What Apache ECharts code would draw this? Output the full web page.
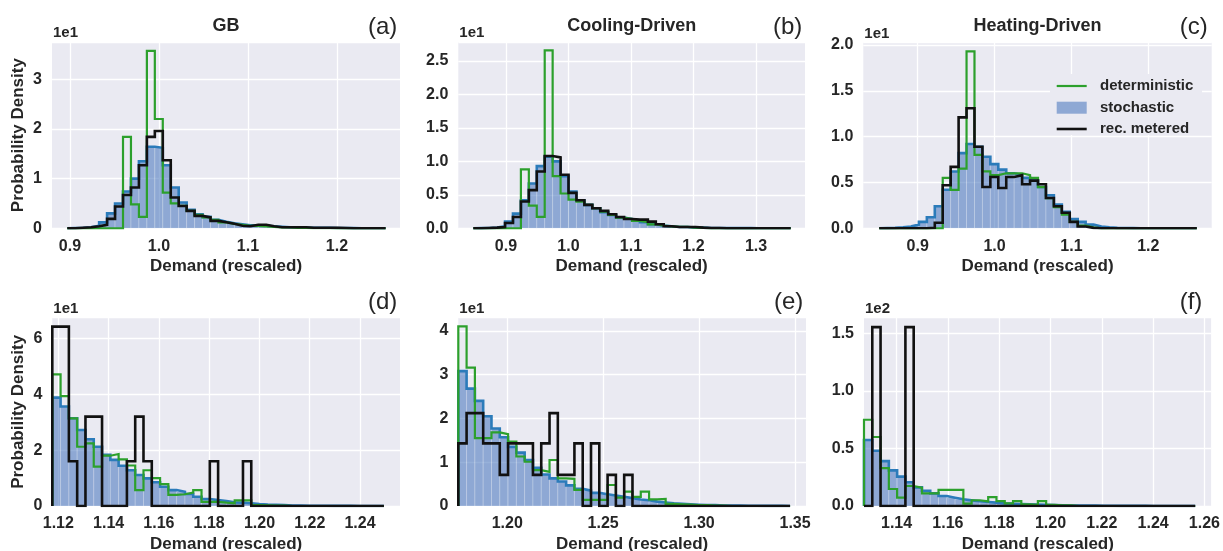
<!DOCTYPE html>
<html><head><meta charset="utf-8">
<script src="https://cdn.jsdelivr.net/npm/echarts@6/dist/echarts.min.js"></script>
<style>html,body{margin:0;padding:0;background:#fff}#c{width:1223px;height:551px}</style>
</head><body><div id="c"></div>
<script>
// ---- DATA (probability density, in units of the axis multiplier shown top-left) ----
const binStart = [0.897, 0.8477, 0.850, 1.1176, 1.1745, 1.1273];
const binWidth = [0.00894, 0.012695, 0.010325, 0.0032975, 0.0043225, 0.0032275];

const detA = [0,0,0,0,0,0,0,1.84,0.48,0.23,3.57,2.2,0.72,0.5,0.45,0.35,0.27,0.22,0.17,0.12,0.09,0.07,0.05,0.05,0.04,0.03,0.02,0.02,0.01,0.01,0.005,0.005,0.005,0,0,0,0,0,0,0];
const stoA = [0.005,0.01,0.02,0.05,0.12,0.3,0.5,0.74,1.0,1.35,1.64,1.62,1.27,0.82,0.52,0.37,0.28,0.23,0.17,0.13,0.1,0.08,0.06,0.06,0.05,0.04,0.03,0.02,0.02,0.015,0.01,0.01,0.01,0.005,0.005,0.003,0.002,0.002,0.001,0.001];
const metA = [0,0.01,0.02,0.04,0.07,0.19,0.44,0.67,0.82,1.27,1.84,1.96,1.37,0.62,0.45,0.35,0.25,0.22,0.15,0.12,0.09,0.05,0.04,0.07,0.07,0.04,0.02,0.02,0.02,0.02,0.01,0.01,0.01,0.01,0.005,0,0,0,0,0];

const detB = [0,0,0,0,0,0,0.88,0.34,0.17,2.66,0.78,0.52,0.43,0.4,0.35,0.3,0.25,0.2,0.16,0.14,0.11,0.09,0.06,0.04,0.03,0.02,0.02,0.01,0.005,0,0,0,0,0,0,0,0,0,0,0];
const stoB = [0.002,0.005,0.01,0.03,0.1,0.22,0.42,0.67,0.93,1.07,1.0,0.78,0.55,0.42,0.35,0.3,0.24,0.2,0.16,0.14,0.12,0.09,0.06,0.04,0.03,0.02,0.02,0.01,0.01,0.005,0.005,0.003,0.003,0.002,0.002,0.001,0.001,0.001,0.001,0.001];
const metB = [0,0.005,0.01,0.02,0.08,0.17,0.4,0.57,0.85,1.08,1.06,0.8,0.53,0.42,0.35,0.3,0.26,0.21,0.17,0.14,0.13,0.13,0.1,0.06,0.03,0.02,0.02,0.02,0.01,0.005,0.005,0,0,0,0,0,0,0,0,0];

const detC = [0,0,0,0,0,0,0,0,0.55,0.42,0.65,1.93,0.8,0.62,0.58,0.6,0.6,0.6,0.58,0.55,0.45,0.33,0.23,0.15,0.07,0.03,0.01,0,0,0,0,0,0,0,0,0,0,0,0,0];
const stoC = [0.002,0.005,0.01,0.02,0.04,0.07,0.12,0.24,0.42,0.62,0.82,0.92,0.89,0.78,0.7,0.64,0.6,0.58,0.55,0.52,0.45,0.36,0.26,0.18,0.1,0.07,0.04,0.02,0.01,0.005,0.003,0.002,0.001,0.001,0,0,0,0,0,0];
const metC = [0,0,0,0,0,0,0.005,0.06,0.47,0.67,1.21,1.31,0.89,0.45,0.56,0.44,0.56,0.58,0.48,0.52,0.48,0.33,0.24,0.17,0.07,0.02,0.005,0,0,0,0,0,0,0,0,0,0,0,0,0];

const detD = [4.71,3.93,3.14,2.12,2.24,1.41,1.8,1.86,1.67,1.45,0.57,1.28,1.0,0.78,0.4,0.42,0.48,0.57,0.15,0.15,0.12,0.1,0.2,0.2,0.03,0.02,0.01,0.01,0,0,0,0,0,0,0,0,0,0,0,0];
const stoD = [3.88,3.56,3.14,2.72,2.39,2.12,1.83,1.65,1.44,1.28,1.11,0.99,0.85,0.69,0.57,0.51,0.43,0.33,0.25,0.21,0.18,0.13,0.12,0.1,0.07,0.05,0.04,0.03,0.02,0.02,0.01,0.01,0.01,0.005,0.005,0.003,0.002,0.002,0.001,0.001];
const metD = [6.42,6.42,1.6,0,3.2,3.2,0,0,0,1.6,3.2,1.6,0,0,0,0,0,0,0,1.6,0,0,0,1.6,0,0,0,0,0,0,0,0,0,0,0,0,0,0,0,0];

const detE = [4.1,3.16,1.55,1.55,1.68,1.64,1.47,1.13,1.01,0.82,0.78,1.05,0.63,0.62,0.37,0.14,0.14,0.14,0.48,0.19,0.33,0.21,0.33,0.15,0.16,0.05,0.04,0.03,0.02,0.02,0.01,0.01,0,0,0,0,0,0,0,0];
const stoE = [3.08,2.68,2.4,2.05,1.77,1.57,1.35,1.22,1.05,0.87,0.72,0.63,0.56,0.47,0.39,0.35,0.3,0.27,0.24,0.21,0.18,0.15,0.13,0.1,0.08,0.06,0.05,0.04,0.03,0.02,0.02,0.01,0.01,0.01,0.005,0.005,0.003,0.002,0.002,0.001];
const metE = [1.43,2.12,2.12,1.43,1.43,0.71,1.43,1.43,1.43,0.71,1.43,2.12,0.71,0.71,1.43,0,1.43,0,0.71,0,0.71,0,0,0,0,0,0,0,0,0,0,0,0,0,0,0,0,0,0,0];

const detF = [0.75,0.6,0.33,0.148,0.072,0.174,0.16,0.11,0.11,0.14,0.14,0.14,0.02,0.05,0.04,0.078,0.043,0.023,0.043,0.015,0.01,0.043,0.01,0.005,0.005,0,0,0,0,0,0,0,0,0,0,0,0,0,0,0];
const stoF = [0.574,0.48,0.39,0.31,0.255,0.206,0.162,0.133,0.11,0.087,0.072,0.058,0.049,0.041,0.035,0.029,0.023,0.02,0.017,0.014,0.012,0.01,0.008,0.006,0.005,0.004,0.003,0.003,0.002,0.002,0.001,0.001,0.001,0.001,0.0005,0.0005,0.0003,0.0002,0.0002,0.0001];
const metF = [0,1.555,0,0,0,1.555,0,0,0,0,0,0,0,0,0,0,0,0,0,0,0,0,0,0,0,0,0,0,0,0,0,0,0,0,0,0,0,0,0,0];

const deterministic = [detA, detB, detC, detD, detE, detF];
const stochastic = [stoA, stoB, stoC, stoD, stoE, stoF];
const metered = [metA, metB, metC, metD, metE, metF];

const titles = ['GB', 'Cooling-Driven', 'Heating-Driven', '', '', ''];
const panelLabels = ['(a)', '(b)', '(c)', '(d)', '(e)', '(f)'];
const multipliers = ['1e1', '1e1', '1e1', '1e1', '1e1', '1e2'];
const xTicks = [
  [0.9, 1.0, 1.1, 1.2],
  [0.9, 1.0, 1.1, 1.2, 1.3],
  [0.9, 1.0, 1.1, 1.2],
  [1.12, 1.14, 1.16, 1.18, 1.20, 1.22, 1.24],
  [1.20, 1.25, 1.30, 1.35],
  [1.14, 1.16, 1.18, 1.20, 1.22, 1.24, 1.26]
];
const xDecimals = [1, 1, 1, 2, 2, 2];
const yTicks = [
  [0, 1, 2, 3],
  [0, 0.5, 1.0, 1.5, 2.0, 2.5],
  [0, 0.5, 1.0, 1.5, 2.0],
  [0, 2, 4, 6],
  [0, 1, 2, 3, 4],
  [0, 0.5, 1.0, 1.5]
];
const yDecimals = [0, 1, 1, 0, 0, 1];
const xRange = [[0.8798, 1.2708], [0.8237, 1.3784], [0.8293, 1.2824], [1.1176, 1.2559], [1.1745, 1.3557], [1.1273, 1.2626]];
const yMax = [3.75, 2.785, 2.027, 6.74, 4.30, 1.637];
const xLabel = 'Demand (rescaled)';
const yLabel = 'Probability Density';
const legendNames = ['deterministic', 'stochastic', 'rec. metered'];

// ---- LAYOUT / STYLE ----
const grids = [
  {left: 52, top: 42, width: 348, height: 186.3},
  {left: 458.3, top: 42, width: 346.7, height: 186.3},
  {left: 863.3, top: 42.5, width: 348.4, height: 185.8},
  {left: 52.3, top: 317.7, width: 347.7, height: 188.3},
  {left: 458.3, top: 317.7, width: 347.7, height: 188.3},
  {left: 864, top: 317.7, width: 347.7, height: 188.3}
];
const FONT = "'Liberation Sans', Arial, sans-serif";
const TXT = '#262626';
const GREEN = '#2ca02c', BLUE = '#2b7bba', BLACK = '#111111';
const FILL = 'rgba(76,120,190,0.58)';

function stepData(start, w, vals) {
  const pts = [[start, 0]];
  vals.forEach((v, i) => pts.push([start + i * w, v]));
  const end = start + vals.length * w;
  pts.push([end, vals[vals.length - 1]]);
  pts.push([end, 0]);
  return pts;
}
function barData(start, w, vals) {
  return vals.map((v, i) => [start + i * w, start + (i + 1) * w, v]);
}

const option = {
  animation: false,
  backgroundColor: '#ffffff',
  grid: [], xAxis: [], yAxis: [], series: [], graphic: []
};

grids.forEach((g, i) => {
  option.grid.push(Object.assign({show: true, backgroundColor: '#eaeaf2', borderWidth: 0, containLabel: false}, g));
  option.xAxis.push({
    type: 'value', gridIndex: i, min: xRange[i][0], max: xRange[i][1],
    axisLine: {show: false},
    axisTick: {show: false, customValues: xTicks[i]},
    axisLabel: {customValues: xTicks[i], formatter: v => Number(v).toFixed(xDecimals[i]),
      margin: 10, fontSize: 16, fontWeight: 'bold', color: TXT, fontFamily: FONT},
    splitLine: {show: true, lineStyle: {color: '#ffffff', width: 1.3}}
  });
  option.yAxis.push({
    type: 'value', gridIndex: i, min: 0, max: yMax[i], interval: yTicks[i][1] - yTicks[i][0],
    axisLine: {show: false}, axisTick: {show: false},
    axisLabel: {showMaxLabel: false, formatter: v => Number(v).toFixed(yDecimals[i]),
      margin: 10, fontSize: 16, fontWeight: 'bold', color: TXT, fontFamily: FONT},
    splitLine: {show: true, lineStyle: {color: '#ffffff', width: 1.3}}
  });
  const s = binStart[i], w = binWidth[i];
  option.series.push({
    type: 'custom', xAxisIndex: i, yAxisIndex: i, silent: true, clip: true,
    data: barData(s, w, stochastic[i]),
    encode: {x: [0, 1], y: 2},
    renderItem: function (params, api) {
      const p0 = api.coord([api.value(0), api.value(2)]);
      const p1 = api.coord([api.value(1), 0]);
      return {type: 'rect', shape: {x: p0[0], y: p0[1], width: p1[0] - p0[0], height: p1[1] - p0[1]},
        style: {fill: FILL, stroke: 'rgba(255,255,255,0.28)', lineWidth: 0.8}};
    }
  });
  const lineSer = (vals, color, width) => ({
    type: 'line', xAxisIndex: i, yAxisIndex: i, step: 'end', symbol: 'none', silent: true,
    data: stepData(s, w, vals),
    lineStyle: {color: color, width: width, join: 'miter', cap: 'butt'}
  });
  option.series.push(lineSer(stochastic[i], BLUE, 2.6));
  option.series.push(lineSer(deterministic[i], GREEN, 2.2));
  option.series.push(lineSer(metered[i], BLACK, 2.6));

  const cx = g.left + g.width / 2;
  if (titles[i]) option.graphic.push({type: 'text', x: cx, y: 26.5, z: 100,
    style: {text: titles[i], fill: TXT, font: `bold 18px ${FONT}`, align: 'center', verticalAlign: 'middle'}});
  option.graphic.push({type: 'text', x: g.left + g.width - 32, y: g.top - 15, z: 100,
    style: {text: panelLabels[i], fill: TXT, font: `24px ${FONT}`, align: 'left', verticalAlign: 'middle'}});
  option.graphic.push({type: 'text', x: g.left + 1, y: g.top - 9, z: 100,
    style: {text: multipliers[i], fill: TXT, font: `bold 15px ${FONT}`, align: 'left', verticalAlign: 'middle'}});
  option.graphic.push({type: 'text', x: cx, y: g.top + g.height + 38.5, z: 100,
    style: {text: xLabel, fill: TXT, font: `bold 17px ${FONT}`, align: 'center', verticalAlign: 'middle'}});
  if (i % 3 === 0) option.graphic.push({type: 'text', x: 18.7, y: g.top + g.height / 2, rotation: Math.PI / 2, z: 100,
    style: {text: yLabel, fill: TXT, font: `bold 17px ${FONT}`, align: 'center', verticalAlign: 'middle'}});
});

// legend inside panel (c), on a frame of the axes' own background colour
const lgX = 1056.7, lgY = [86, 107.7, 129], lgTextX = 1100;
option.graphic.push({type: 'rect', z: 100, shape: {x: 1050, y: 74, width: 152, height: 61}, style: {fill: '#eaeaf2'}});
option.graphic.push({type: 'line', z: 101, shape: {x1: lgX, y1: lgY[0], x2: lgX + 30, y2: lgY[0]}, style: {stroke: GREEN, lineWidth: 2.2}});
option.graphic.push({type: 'rect', z: 101, shape: {x: lgX, y: lgY[1] - 6, width: 30, height: 12}, style: {fill: FILL}});
option.graphic.push({type: 'line', z: 101, shape: {x1: lgX, y1: lgY[2], x2: lgX + 30, y2: lgY[2]}, style: {stroke: BLACK, lineWidth: 2.6}});
legendNames.forEach((n, k) => option.graphic.push({type: 'text', z: 101, x: lgTextX, y: lgY[k],
  style: {text: n, fill: TXT, font: `bold 15px ${FONT}`, align: 'left', verticalAlign: 'middle'}}));

const chart = echarts.init(document.getElementById('c'), null, {renderer: 'canvas'});
chart.setOption(option);
</script>
</body></html>
